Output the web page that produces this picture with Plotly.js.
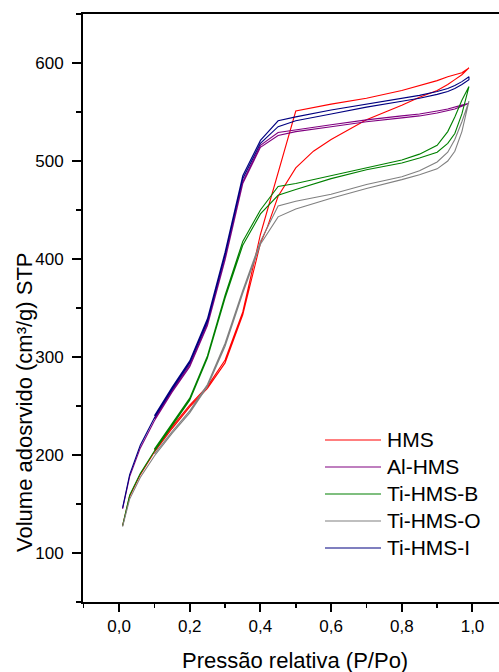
<!DOCTYPE html>
<html>
<head>
<meta charset="utf-8">
<script src="https://cdn.plot.ly/plotly-3.0.1.min.js"></script>
<style>html,body{margin:0;padding:0;background:#fff;}#chart{width:499px;height:672px;}</style>
</head>
<body>
<div id="chart"></div>
<script>
// Sample names and colours
const seriesNames = ["HMS", "Al-HMS", "Ti-HMS-B", "Ti-HMS-O", "Ti-HMS-I"];
const seriesColors = ["#ff0000", "#800080", "#008000", "#808080", "#000080"];
const xTitle = "Pressão relativa (P/Po)";
const yTitle = "Volume adosrvido (cm³/g) STP";

// Common relative pressure grids (P/Po)
const adsP = [0.01,0.03,0.06,0.1,0.15,0.2,0.25,0.3,0.35,0.4,0.45,0.5,0.6,0.7,0.8,0.85,0.9,0.93,0.95,0.97,0.99];
const desP = [0.99,0.97,0.95,0.93,0.9,0.85,0.8,0.7,0.6,0.5,0.45,0.4,0.35,0.3,0.25,0.2,0.15,0.1];

// HMS (own grid)
const hmsAdsP = [0.01,0.03,0.06,0.1,0.15,0.2,0.25,0.3,0.35,0.4,0.42,0.45,0.5,0.55,0.6,0.7,0.8,0.85,0.9,0.93,0.95,0.97,0.99];
const hmsAdsV = [128,158,180,203,227,249,268,294,343,416,433,464,493,510,522,542,557,565,572,578,583,588,595];
const hmsDesP = [0.99,0.97,0.95,0.93,0.9,0.85,0.8,0.7,0.6,0.5,0.4,0.35,0.3,0.25,0.2,0.15,0.1];
const hmsDesV = [595,590,588,586,582,577,572,564,558,551,425,346,297,270,251,229,205];

// Al-HMS
const alAdsV = [145,178,207,235,264,290,332,399,477,514,526,530,535,540,544,546,549,551,553,556,559];
const alDesV = [559,557,555,553,551,548,546,542,537,532,529,516,479,401,334,292,266,237];

// Ti-HMS-B
const tibAdsV = [128,159,181,204,230,256,299,360,414,446,465,471,482,491,498,503,509,518,528,548,576];
const tibDesV = [576,562,545,530,516,507,501,493,485,477,474,450,418,363,301,258,232,206];

// Ti-HMS-O
const tioAdsV = [127,155,177,199,222,243,270,311,365,415,443,451,462,472,481,486,492,500,510,530,561];
const tioDesV = [561,540,522,509,499,490,484,476,466,459,454,418,368,314,272,245,224,201];

// Ti-HMS-I
const tiiAdsV = [146,180,210,238,267,294,336,404,482,518,535,541,548,555,561,564,568,571,574,578,583];
const tiiDesV = [586,581,577,574,571,567,564,558,552,545,541,521,485,407,339,296,269,240];

const loops = [
  {p: hmsAdsP.concat(hmsDesP), v: hmsAdsV.concat(hmsDesV)},
  {p: adsP.concat(desP), v: alAdsV.concat(alDesV)},
  {p: adsP.concat(desP), v: tibAdsV.concat(tibDesV)},
  {p: adsP.concat(desP), v: tioAdsV.concat(tioDesV)},
  {p: adsP.concat(desP), v: tiiAdsV.concat(tiiDesV)}
];

const FONT = "Liberation Sans, Arial, Helvetica, sans-serif";

const traces = loops.map((l, i) => ({
  type: "scatter", mode: "lines",
  x: l.p, y: l.v, name: seriesNames[i],
  line: {color: seriesColors[i], width: 1.1},
  showlegend: false, hoverinfo: "skip"
}));

// Custom legend (long line samples like the reference)
const M = {l: 83, r: 0, t: 14, b: 70};
const W = 499, H = 672;
const pw = W - M.l - M.r, ph = H - M.t - M.b;
const px2x = px => (px - M.l) / pw;
const py2y = py => (H - M.b - py) / ph;
const legendRows = [440, 467, 494, 521, 548];
const shapes = [], annotations = [];
seriesNames.forEach((n, i) => {
  shapes.push({type: "line", xref: "paper", yref: "paper",
    x0: px2x(325), x1: px2x(381), y0: py2y(legendRows[i]), y1: py2y(legendRows[i]),
    line: {color: seriesColors[i], width: 1.2}});
  annotations.push({xref: "paper", yref: "paper", x: px2x(385), y: py2y(legendRows[i] - 1),
    xanchor: "left", yanchor: "middle", showarrow: false, text: n,
    font: {family: FONT, size: 21, color: "#000"}});
});
// Axis titles placed like the reference
annotations.push({xref: "paper", yref: "paper", x: px2x(295), y: py2y(660),
  xanchor: "center", yanchor: "middle", showarrow: false, text: xTitle,
  font: {family: FONT, size: 22, color: "#000"}});
annotations.push({xref: "paper", yref: "paper", x: px2x(24), y: py2y(402),
  xanchor: "center", yanchor: "middle", showarrow: false, text: yTitle, textangle: -90,
  font: {family: FONT, size: 22, color: "#000"}});

const layout = {
  width: W, height: H,
  margin: M,
  paper_bgcolor: "#fff", plot_bgcolor: "#fff",
  separators: ",.",
  showlegend: false,
  font: {family: FONT, color: "#000"},
  xaxis: {
    range: [-0.102, 1.075], dtick: 0.2, tick0: 0, tickformat: ".1f",
    showgrid: false, zeroline: false,
    showline: true, linewidth: 2, linecolor: "#000", mirror: true,
    ticks: "outside", ticklen: 8, tickwidth: 2, tickcolor: "#000",
    ticklabelstandoff: 0,
    minor: {dtick: 0.1, ticks: "outside", ticklen: 4, tickwidth: 1.5, tickcolor: "#000"},
    tickfont: {family: FONT, size: 17, color: "#000"}
  },
  yaxis: {
    range: [50, 650], dtick: 100, tick0: 0,
    showgrid: false, zeroline: false,
    showline: true, linewidth: 2, linecolor: "#000",
    ticks: "outside", ticklen: 9, tickwidth: 2, tickcolor: "#000",
    ticklabelstandoff: 5,
    minor: {dtick: 50, ticks: "outside", ticklen: 5, tickwidth: 1.5, tickcolor: "#000"},
    tickfont: {family: FONT, size: 17, color: "#000"}
  },
  shapes: shapes,
  annotations: annotations
};

Plotly.newPlot("chart", traces, layout, {staticPlot: true, displayModeBar: false});
</script>
</body>
</html>
